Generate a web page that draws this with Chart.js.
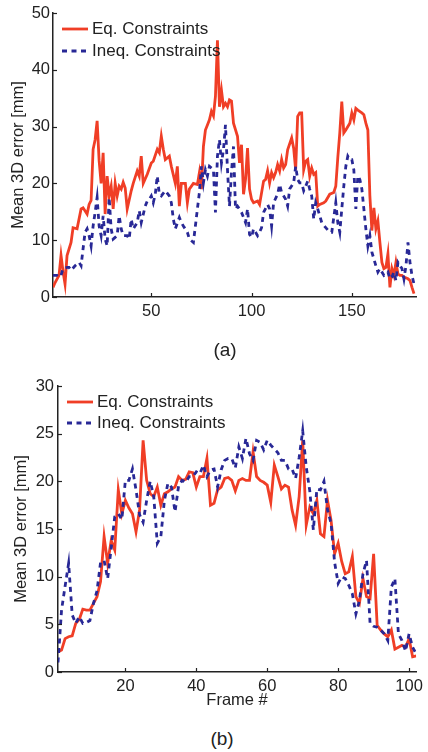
<!DOCTYPE html>
<html><head><meta charset="utf-8">
<script src="https://cdn.jsdelivr.net/npm/chart.js@4.4.1/dist/chart.umd.min.js"></script>
<style>
html,body{margin:0;padding:0;background:#fff;}
#wrap{position:relative;width:428px;height:752px;overflow:hidden;font-family:"Liberation Sans",Arial,sans-serif;color:#222;}
canvas{position:absolute;left:0;}
.leg{position:absolute;height:20px;font-size:17px;line-height:20px;white-space:nowrap;}
.leg svg{position:absolute;left:0;top:0;}
.leg span{position:absolute;top:0;}
.cap{position:absolute;font-size:19px;line-height:22px;transform:translate(-50%,-50%);}
</style></head><body>
<div id="wrap">
<canvas id="ca" width="428" height="325" style="top:0px"></canvas>
<canvas id="cb" width="428" height="347" style="top:365px"></canvas>
<div id="legA1" class="leg" style="left:62px;top:19px"></div>
<div id="legA2" class="leg" style="left:62px;top:41px"></div>
<div id="legB1" class="leg" style="left:67px;top:392px"></div>
<div id="legB2" class="leg" style="left:67px;top:413px"></div>
<div class="cap" id="capA" style="left:225px;top:350px"></div>
<div class="cap" id="capB" style="left:222px;top:739px"></div>
</div>
<script>
// ---------- data ----------
const seriesNames = ["Eq. Constraints", "Ineq. Constraints"];
const captions = ["(a)", "(b)"];
const yTitle = "Mean 3D error [mm]";
const xTitleB = "Frame #";

// (a)
const xTicksA = [50, 100, 150];
const yTicksA = [0, 10, 20, 30, 40, 50];
const eqFramesA = [1,2,4,5,6,7,8,10,11,13,15,16,18,19,20,21,22,23,24,25,26,27,28,29,30,31,32,33,34,35,36,37,38,40,41,43,44,45,46,48,50,51,53,54,55,56,57,59,60,62,63,64,65,67,68,69,71,73,74,75,76,77,78,79,80,81,82,83,84,85,86,87,88,89,90,91,93,94,95,96,97,98,99,100,101,103,104,106,107,108,109,110,111,112,113,114,115,116,117,118,120,121,122,123,124,125,126,127,128,129,130,131,132,133,134,136,137,139,141,142,143,144,145,146,147,149,150,151,152,153,155,156,157,158,159,160,161,162,163,164,165,166,167,168,169,170,171,172,173,174,175,176,178,179,180,181];
const eqA = [1.7,2.5,3.8,7.3,4.5,2.3,7.3,9.6,12.2,12,15.5,15.7,14.6,16.3,17,26,27.7,31,24,20,25.4,14.6,21.3,17.8,19.5,15.5,20,17.8,19.5,19,20.2,19.2,15.5,18.7,20,22.2,21.3,24.8,20,21.6,23.6,23.9,26,25.4,28.3,26,24.2,24.8,23,20,23,16,20,20,16.6,19,20,19.8,21.9,19,26.5,29.4,30.3,31.2,32.7,31.9,35.3,45.2,33.5,36.4,33.5,34.1,33.5,34.7,34.5,30.6,28.3,23.6,26.8,18.1,20.7,26.2,19,17.2,16.6,16.9,16.3,20.4,20.7,22.2,20.1,21.9,21,21.9,23.3,22.2,24.2,22.7,23.3,25.9,28,26.2,22.4,31.8,32.4,32.4,22.4,23.9,24.2,21.3,22.7,21.6,21.9,16,16.3,16.6,16.9,18.1,18.4,19.5,24.5,28.9,34.4,28.9,29.4,30.6,32.4,31.2,33.2,32.9,32.4,32.1,30.6,29.4,17.8,11.7,15.7,12,13.4,9.6,6.1,5,5.2,7.6,1.7,5,3.8,6.1,4.1,3.8,3.8,3.5,3.2,2.9,1.7,0.6];
const ineqFramesA = [1,3,4,5,6,8,9,10,12,14,15,16,17,18,19,20,21,22,23,24,25,26,27,28,29,30,31,32,33,34,35,36,38,39,40,41,43,44,45,47,48,49,50,51,52,53,54,55,57,59,60,61,62,64,65,66,68,69,71,72,73,74,75,76,77,78,79,81,82,83,84,85,86,87,88,89,90,91,92,93,94,95,96,97,98,99,100,101,103,104,105,106,108,109,110,111,113,114,115,117,118,119,121,122,123,124,125,126,127,128,129,130,131,132,133,134,135,137,139,140,142,143,144,145,146,147,148,149,150,151,152,153,154,155,156,157,158,159,160,161,162,163,164,165,166,168,169,170,171,172,173,175,176,177,178,179,180,181];
const ineqA = [3.8,3.8,3.5,3.8,5,5.2,5.2,4.7,5.5,6.1,5.5,8.5,11.4,12,10.8,9,12.5,14.9,17.5,12.5,10.8,14.3,10.2,9,17.5,12,10.2,10.5,10.8,14.3,12,10.8,10.8,10.2,13.7,12,13.1,15.2,13.1,16,16.9,17.2,17.8,16.6,18.1,21.3,18.1,17.8,18.7,17.8,16.6,13.7,12,14,13.1,12.5,11.4,10.2,9.6,12.5,15.5,18.4,23,20.1,22.4,21.3,23,22.4,14.9,24.8,27.7,23.6,25.9,30.3,22.4,16,22,26.5,15.5,16,15.5,14.9,14,13.1,15.5,11,10.5,12,10.8,11.4,12.2,14.9,16.3,15.5,12.5,16.6,18.1,19.8,18.4,17.2,16,19,20.1,23,20.7,20.1,20.1,18.7,19.5,20.4,19,17.8,13.7,16.6,15.5,14.3,13.1,12.2,11.4,11.4,16.6,13.1,11.4,15.5,19.5,23,24.8,24.2,24.2,22.4,15.5,21.3,20.7,19,15.5,12,9,10.8,7.9,6.7,5.5,4.4,5,4.4,3.8,4.4,3.2,3.5,4.4,2.9,6.1,5,3.2,5.5,9.6,6.1,3.8,2.3];

// (b)
const xTicksB = [20, 40, 60, 80, 100];
const yTicksB = [0, 5, 10, 15, 20, 25, 30];
const framesB = Array.from({length: 102}, (_, i) => i + 1);
const eqB = [2.1,2.3,3.5,3.7,3.8,5.1,5.5,6.6,6.5,6.5,7.2,7.9,9.5,14.2,11.4,13.8,12.8,19.1,16.6,18,17.2,16.6,14.7,17,24.3,20.1,18.7,18.4,19.4,17.5,18.7,18.9,19.2,19.4,20.5,20.1,20.2,21,20.9,19.4,20.5,20.5,22.4,17.5,17.7,19.1,19.4,20.3,20.4,20.1,19,20.1,20.3,20.1,20.1,23.1,20.5,20.1,19.9,19.6,17.8,21.7,20.5,19.2,19.6,19.4,17,15.4,18.4,24.3,15.4,17.3,16.6,18,14.5,14.2,18,15.9,12.4,13.5,11.6,10.3,10.5,12.1,7.9,7.2,9.8,7.9,7.7,12.4,4.9,4.4,4,3.7,4.4,2.4,2.6,2.8,2.6,3.5,1.6,1.7];
const ineqB = [1,6.5,9,11.4,6,5.1,5.8,5.1,5.2,5.4,7.2,8.5,11.5,11.7,9.8,13,16.3,16.6,16,20.1,20.1,21.3,19.1,16.5,15.7,18,20,18.4,13.5,14.2,18,19.8,19.4,16.8,19.5,20.1,19.9,20.5,20.5,21,20.8,21.7,20.5,21.2,21.3,19.4,21.2,22.2,22.4,22.4,21.4,23.6,22.4,24.5,22.9,22.2,24.3,24.1,23.3,24.3,23.8,23.4,23,22.2,22.2,21.3,21.3,20.3,22.5,25.3,21.5,19,14.9,19.2,19.1,20,17,15.6,11.5,9.3,10,9.8,9.1,8.2,6.1,7.5,10.3,11.7,5.1,4.8,4.7,4.4,4,3.3,8.9,9.8,4,3.3,2.2,4,2.6,1.9];

// ---------- styling ----------
const RED = "rgb(240,62,38)";
const BLUE = "rgb(40,40,150)";
const INK = "#222";
const FONT = '"Liberation Sans", Arial, sans-serif';
const DASH = [5, 4.5];
const LW = 2.8;

function pts(xs, ys) { return xs.map((x, i) => ({x: x, y: ys[i]})); }

const inwardTicks = {
  id: 'inwardTicks',
  afterDraw(chart) {
    const {ctx, scales: {x, y}} = chart;
    ctx.save();
    ctx.strokeStyle = INK; ctx.lineWidth = 1.2;
    x.ticks.forEach(t => { const p = Math.round(x.getPixelForValue(t.value)) + 0.5;
      ctx.beginPath(); ctx.moveTo(p, y.bottom); ctx.lineTo(p, y.bottom - 4); ctx.stroke(); });
    y.ticks.forEach(t => { const p = Math.round(y.getPixelForValue(t.value)) + 0.5;
      ctx.beginPath(); ctx.moveTo(x.left, p); ctx.lineTo(x.left + 4, p); ctx.stroke(); });
    ctx.restore();
  }
};

function makeChart(id, cfg) {
  const datasets = [
    {label: seriesNames[0], data: cfg.eq, borderColor: RED, borderWidth: LW, pointRadius: 0, tension: 0, fill: false, order: 2},
    {label: seriesNames[1], data: cfg.ineq, borderColor: BLUE, borderWidth: LW, borderDash: DASH, pointRadius: 0, tension: 0, fill: false, order: 1}
  ];
  return new Chart(document.getElementById(id), {
    type: 'line',
    data: {datasets},
    plugins: [inwardTicks],
    options: {
      responsive: false, animation: false, devicePixelRatio: 1,
      layout: {padding: cfg.pad},
      plugins: {legend: {display: false}, tooltip: {enabled: false}, title: {display: false}},
      scales: {
        x: {
          type: 'linear', min: cfg.xmin, max: cfg.xmax,
          afterBuildTicks: s => { s.ticks = cfg.xticks.map(v => ({value: v})); },
          afterFit: s => { s.height = cfg.xh; },
          grid: {display: false, drawTicks: false},
          border: {display: true, color: INK, width: 1.5},
          ticks: {padding: cfg.xpad, color: INK, font: {family: FONT, size: 16.5}, autoSkip: false, maxRotation: 0},
          title: cfg.xtitle ? {display: true, text: cfg.xtitle, color: INK, font: {family: FONT, size: 16.5}, padding: {top: 0, bottom: cfg.xtpad}} : {display: false}
        },
        y: {
          type: 'linear', min: cfg.ymin, max: cfg.ymax,
          afterBuildTicks: s => { s.ticks = cfg.yticks.map(v => ({value: v})); },
          afterFit: s => { s.width = cfg.yw; },
          grid: {display: false, drawTicks: false},
          border: {display: true, color: INK, width: 1.5},
          ticks: {padding: cfg.ypad, color: INK, font: {family: FONT, size: 16.5}},
          title: {display: true, text: yTitle, color: INK, font: {family: FONT, size: 16.5}, padding: {top: cfg.ytpad, bottom: 0}}
        }
      }
    }
  });
}

makeChart('ca', {
  eq: pts(eqFramesA, eqA), ineq: pts(ineqFramesA, ineqA),
  xmin: 1, xmax: 182, ymin: 0, ymax: 50, xticks: xTicksA, yticks: yTicksA,
  pad: {top: 13, right: 12, left: 0, bottom: 0}, xh: 28, yw: 53, xpad: 5, ypad: 3, ytpad: 9
});
makeChart('cb', {
  eq: pts(framesB, eqB), ineq: pts(framesB, ineqB),
  xmin: 1, xmax: 102, ymin: 0, ymax: 30, xticks: xTicksB, yticks: yTicksB,
  pad: {top: 21, right: 8, left: 0, bottom: 0}, xh: 40, yw: 58, xpad: 5, ypad: 4, ytpad: 12,
  xtitle: xTitleB, xtpad: 2
});

// legends (HTML overlay inside plot area)
function legend(id, name, color, dashed) {
  const el = document.getElementById(id);
  const dash = dashed ? ' stroke-dasharray="' + DASH.join(' ') + '"' : '';
  el.innerHTML = '<svg width="26" height="20"><line x1="0" y1="10" x2="26" y2="10" stroke="' + color + '" stroke-width="' + LW + '"' + dash + '/></svg>' +
    '<span style="left:30px">' + name + '</span>';
}
legend('legA1', seriesNames[0], RED, false);
legend('legA2', seriesNames[1], BLUE, true);
legend('legB1', seriesNames[0], RED, false);
legend('legB2', seriesNames[1], BLUE, true);
document.getElementById('capA').textContent = captions[0];
document.getElementById('capB').textContent = captions[1];
</script>
</body></html>
